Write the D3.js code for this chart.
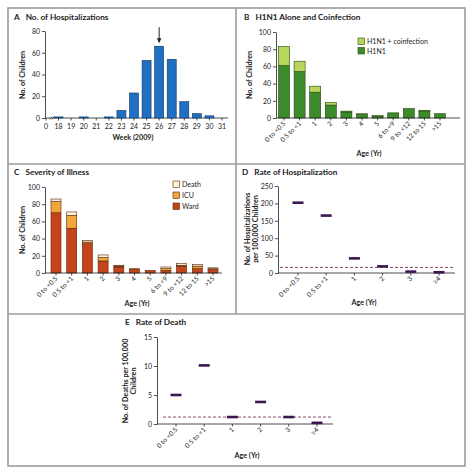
<!DOCTYPE html>
<html><head><meta charset="utf-8">
<script src="https://cdn.jsdelivr.net/npm/d3@7"></script>
<style>
body{margin:0;background:#fff}
svg text{font-family:Lato,"Open Sans",sans-serif;fill:#222}
</style></head><body>
<svg id="chart" width="474" height="475"></svg>
<script>
// ---------- DATA ----------
const weekLabels = ["0","18","19","20","21","22","23","24","25","26","27","28","29","30","31"];
const hospPerWeek = [null,1,0,1,0,1,7,23,53,66,54,15,4,2,0];
const peakWeek = "26";

const ageGroups = ["0 to <0.5","0.5 to <1","1","2","3","4","5","6 to <9","9 to <12","12 to 15",">15"];
const h1n1Alone = [61,54,30,15,7,4,2,6,11,8,5];
const h1n1Coinf = [22,12,7,3,1,1,1,0,0,1,0];

const ward  = [70,52,34,14,7,4,3,3,8,5,4];
const icu   = [13,15,2,4,1,1,0,2,1,3,1];
const death = [3,4,2,3,1,0,0,2,2,2,1];

const rateGroups = ["0 to <0.5","0.5 to <1","1","2","3","\u22654"];
const hospRate = [202,165,42,19,4,2];
const hospRateRef = 16;
const deathRate = [5.0,10.1,1.2,3.8,1.2,0.2];
const deathRateRef = 1.2;

// ---------- SETUP ----------
const svg = d3.select("#chart");
const frame = "#9c9c9c";
const ink = "#222";
const FONT = "Lato";

const fr = svg.append("g").attr("stroke", frame).attr("stroke-width", 1.6).attr("fill","none");
fr.append("rect").attr("x",8).attr("y",8).attr("width",457).attr("height",458);
fr.append("line").attr("x1",236).attr("x2",236).attr("y1",8).attr("y2",314);
fr.append("line").attr("x1",8).attr("x2",465).attr("y1",164).attr("y2",164);
fr.append("line").attr("x1",8).attr("x2",465).attr("y1",314).attr("y2",314);

function title(x, y, letter, text){
  const t = svg.append("text").attr("x",x).attr("y",y).attr("font-size",8.2).attr("font-weight",700);
  t.append("tspan").text(letter);
  t.append("tspan").attr("dx",6).text(text);
}
function yAxis(x, scale, ticks){
  const g = svg.append("g").attr("transform",`translate(${x},0)`)
    .call(d3.axisLeft(scale).tickValues(ticks).tickSize(3).tickSizeOuter(0).tickPadding(2));
  g.select(".domain").attr("stroke",ink).attr("stroke-width",0.8);
  g.selectAll(".tick line").attr("stroke",ink).attr("stroke-width",0.8);
  g.selectAll(".tick text").attr("font-size",7).attr("font-family",FONT).attr("fill",ink);
  return g;
}
function xLine(x1,x2,y){
  svg.append("line").attr("x1",x1).attr("x2",x2).attr("y1",y).attr("y2",y).attr("stroke",ink).attr("stroke-width",0.8);
}
function rotLabels(scale, cats, y){
  const g = svg.append("g");
  cats.forEach(c=>{
    const cx = scale(c);
    g.append("line").attr("x1",cx).attr("x2",cx).attr("y1",y).attr("y2",y+2.5).attr("stroke",ink).attr("stroke-width",0.8);
    g.append("text").attr("transform",`translate(${cx+2},${y+6}) rotate(-45)`)
      .attr("text-anchor","end").attr("font-size",6.6).text(c);
  });
}
function yLabel(x, y, lines){
  const t = svg.append("text").attr("transform",`translate(${x},${y}) rotate(-90)`)
    .attr("text-anchor","middle").attr("font-size",7.2).attr("font-weight",700);
  lines.forEach((l,i)=>t.append("tspan").attr("x",0).attr("dy",i===0?0:7.5).text(l));
}
function xLabel(x, y, text){
  svg.append("text").attr("x",x).attr("y",y).attr("text-anchor","middle").attr("font-size",7.2).attr("font-weight",700).text(text);
}

// ---------- PANEL A ----------
title(14, 20, "A", "No. of Hospitalizations");
const xA = d3.scaleLinear().domain([0, weekLabels.length-1]).range([46, 222]);
const yA = d3.scaleLinear().domain([0,80]).range([118,31]);
yAxis(45, yA, [0,20,40,60,80]);
xLine(45, 228, 118);
svg.append("g").selectAll("rect").data(hospPerWeek.map((v,i)=>({v,i})).filter(d=>d.v))
  .join("rect")
  .attr("x",d=>xA(d.i)-4.5).attr("width",9)
  .attr("y",d=>yA(d.v)).attr("height",d=>Math.max(yA(0)-yA(d.v),0.8))
  .attr("fill","#1f6fc3").attr("stroke","#0c3866").attr("stroke-width",0.6);
weekLabels.forEach((w,i)=>{
  svg.append("line").attr("x1",xA(i)).attr("x2",xA(i)).attr("y1",118).attr("y2",120.5).attr("stroke",ink).attr("stroke-width",0.8);
  svg.append("text").attr("x",xA(i)).attr("y",129).attr("text-anchor","middle").attr("font-size",7).text(w);
});
[0,2.2].forEach(d=>svg.append("line").attr("x1",49.5+d).attr("x2",52+d).attr("y1",119.5).attr("y2",116.5).attr("stroke",ink).attr("stroke-width",0.7));
const pi = weekLabels.indexOf(peakWeek);
const arrowTip = yA(hospPerWeek[pi]) - 3;
svg.append("line").attr("x1",xA(pi)).attr("x2",xA(pi)).attr("y1",arrowTip-16).attr("y2",arrowTip-3).attr("stroke",ink).attr("stroke-width",1);
svg.append("path").attr("d",`M${xA(pi)-2.3},${arrowTip-5} L${xA(pi)+2.3},${arrowTip-5} L${xA(pi)},${arrowTip} Z`).attr("fill",ink);
yLabel(25, 75, ["No. of Children"]);
xLabel(133, 140, "Week (2009)");

// ---------- PANEL B ----------
title(244, 20, "B", "H1N1 Alone and Coinfection");
const xB = d3.scalePoint().domain(ageGroups).range([284, 440]);
const yB = d3.scaleLinear().domain([0,100]).range([118,32]);
yAxis(276, yB, [0,20,40,60,80,100]);
const stackB = d3.stack().keys(["alone","coinf"])(ageGroups.map((g,i)=>({g,alone:h1n1Alone[i],coinf:h1n1Coinf[i]})));
const colB = {alone:"#3c8c2c", coinf:"#b9d65c"};
stackB.forEach(layer=>{
  svg.append("g").selectAll("rect").data(layer.filter(d=>d[1]>d[0])).join("rect")
    .attr("x",d=>xB(d.data.g)-5.5).attr("width",11)
    .attr("y",d=>yB(d[1])).attr("height",d=>yB(d[0])-yB(d[1]))
    .attr("fill",colB[layer.key]).attr("stroke","#1d4a12").attr("stroke-width",0.6);
});
xLine(276, 460, 118);
rotLabels(xB, ageGroups, 118);
[["coinf","H1N1 + coinfection"],["alone","H1N1"]].forEach(([k,t],i)=>{
  svg.append("rect").attr("x",358).attr("y",38+i*9.5).attr("width",6.5).attr("height",6.5).attr("fill",colB[k]).attr("stroke","#1d4a12").attr("stroke-width",0.6);
  svg.append("text").attr("x",367).attr("y",44+i*9.5).attr("font-size",7).text(t);
});
yLabel(252, 75, ["No. of Children"]);
xLabel(369, 156, "Age (Yr)");

// ---------- PANEL C ----------
title(14, 175, "C", "Severity of Illness");
const xC = d3.scalePoint().domain(ageGroups).range([56, 213]);
const yC = d3.scaleLinear().domain([0,100]).range([273,187]);
yAxis(45, yC, [0,20,40,60,80,100]);
const stackC = d3.stack().keys(["ward","icu","death"])(ageGroups.map((g,i)=>({g,ward:ward[i],icu:icu[i],death:death[i]})));
const colC = {ward:"#c4451b", icu:"#f0a737", death:"#fcf5cf"};
stackC.forEach(layer=>{
  svg.append("g").selectAll("rect").data(layer.filter(d=>d[1]>d[0])).join("rect")
    .attr("x",d=>xC(d.data.g)-5).attr("width",10)
    .attr("y",d=>yC(d[1])).attr("height",d=>yC(d[0])-yC(d[1]))
    .attr("fill",colC[layer.key]).attr("stroke","#5a2410").attr("stroke-width",0.6);
});
xLine(45, 222, 273);
rotLabels(xC, ageGroups, 273);
[["death","Death"],["icu","ICU"],["ward","Ward"]].forEach(([k,t],i)=>{
  svg.append("rect").attr("x",173).attr("y",181+i*11).attr("width",6.5).attr("height",6.5).attr("fill",colC[k]).attr("stroke","#5a2410").attr("stroke-width",0.6);
  svg.append("text").attr("x",182).attr("y",187+i*11).attr("font-size",7).text(t);
});
yLabel(25, 230, ["No. of Children"]);
xLabel(137, 306, "Age (Yr)");

// ---------- PANEL D ----------
title(242, 175, "D", "Rate of Hospitalization");
const xD = d3.scalePoint().domain(rateGroups).range([298, 439]);
const yD = d3.scaleLinear().domain([0,250]).range([273,186]);
yAxis(278, yD, [0,50,100,150,200,250]);
xLine(278, 455, 273);
svg.append("line").attr("x1",280).attr("x2",455).attr("y1",yD(hospRateRef)).attr("y2",yD(hospRateRef))
  .attr("stroke","#7a3658").attr("stroke-width",0.9).attr("stroke-dasharray","3,2");
svg.append("g").selectAll("line").data(rateGroups.map((g,i)=>({g,v:hospRate[i]}))).join("line")
  .attr("x1",d=>xD(d.g)-5.5).attr("x2",d=>xD(d.g)+5.5).attr("y1",d=>yD(d.v)).attr("y2",d=>yD(d.v))
  .attr("stroke","#3b1650").attr("stroke-width",2.6);
rotLabels(xD, rateGroups, 273);
yLabel(250, 229, ["No. of Hospitalizations","per 100,000 Children"]);
xLabel(364, 305, "Age (Yr)");

// ---------- PANEL E ----------
title(125, 325, "E", "Rate of Death");
const xE = d3.scalePoint().domain(rateGroups).range([176, 317]);
const yE = d3.scaleLinear().domain([0,15]).range([424,337]);
yAxis(157, yE, [0,5,10,15]);
xLine(157, 333, 424);
svg.append("line").attr("x1",163).attr("x2",333).attr("y1",yE(deathRateRef)).attr("y2",yE(deathRateRef))
  .attr("stroke","#7a3658").attr("stroke-width",0.9).attr("stroke-dasharray","3,2");
svg.append("g").selectAll("line").data(rateGroups.map((g,i)=>({g,v:deathRate[i]}))).join("line")
  .attr("x1",d=>xE(d.g)-5.5).attr("x2",d=>xE(d.g)+5.5).attr("y1",d=>yE(d.v)).attr("y2",d=>yE(d.v))
  .attr("stroke","#3b1650").attr("stroke-width",2.6);
rotLabels(xE, rateGroups, 424);
yLabel(128, 381, ["No. of Deaths per 100,000","Children"]);
xLabel(247, 458, "Age (Yr)");
</script>
</body></html>
